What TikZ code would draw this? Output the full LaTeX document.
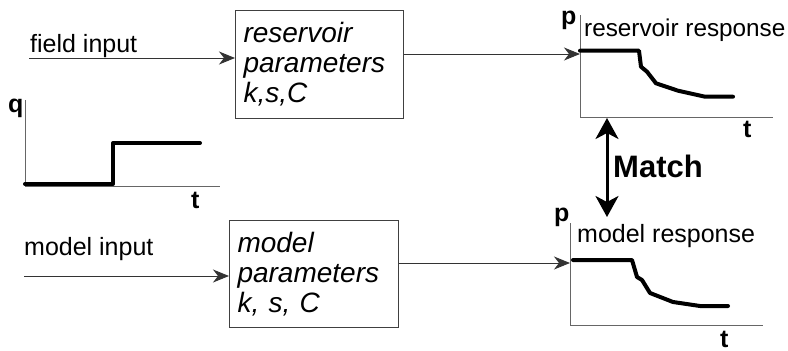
\documentclass[tikz,border=0pt]{standalone}
\usepackage{fontspec}
\setmainfont{Liberation Sans}
\usetikzlibrary{arrows.meta}

\tikzset{
  lbl/.style={anchor=base west, inner sep=0pt, font=\fontsize{25}{28}\selectfont},
  axlbl/.style={anchor=base west, inner sep=0pt, font=\fontsize{25}{28}\selectfont\bfseries},
  pbox/.style={draw=black!75, line width=1pt, anchor=north west, align=left,
    inner xsep=8pt, inner ysep=0pt, font=\fontsize{28}{30}\selectfont\itshape},
  thin arrow/.style={draw=black!80, line width=1pt,
    -{Stealth[length=16pt, width=13pt, inset=5pt]}},
  axis/.style={draw=black!60, line width=1pt},
  signal/.style={draw=black, line width=4pt, line cap=round, line join=round},
  match arrow/.style={draw=black, line width=3pt,
    {Stealth[length=21pt, width=23pt, inset=6pt]}-{Stealth[length=21pt, width=23pt, inset=6pt]}}
}

\begin{document}
\begin{tikzpicture}[x=1pt, y=-1pt]
  \useasboundingbox (0,0) rectangle (788,351);
  \clip (0,0) rectangle (788,351);

  % ---------- parameter boxes ----------
  \node[pbox, text width=152pt, minimum height=108pt] (res) at (235,10)
    {reservoir\\parameters\\k,s,C};
  \node[pbox, text width=153pt, minimum height=107pt] (mod) at (229,220)
    {model\\parameters\\k, s, C};

  % ---------- inputs ----------
  \node[lbl] (fieldlbl) at (30,52) {field input};
  \node[lbl] (modellbl) at (24,255) {model input};
  \coordinate (fin) at (29,58);
  \coordinate (min) at (24,276);
  \draw[thin arrow] (fin) -- (fin -| res.west);
  \draw[thin arrow] (min) -- (min -| mod.west);

  % ---------- input rate plot q(t) ----------
  \coordinate (qO) at (25,186);
  \coordinate (qtop) at (25,100);
  \coordinate (qend) at (220,186);
  \draw[axis] (qtop) -- (qO) -- (qend);
  \draw[signal] (25,184) -- (113,184) -- (113,143) -- (200,143);
  \node[axlbl] (qlbl) at (8,112) {q};
  \node[axlbl] (qt) at (191,208) {t};

  % ---------- reservoir response plot ----------
  \coordinate (rO) at (580,117);
  \coordinate (rtop) at (580,15);
  \coordinate (rend) at (773,117);
  \coordinate (rin) at (580,54);
  \draw[axis] (rtop) -- (rO) -- (rend);
  \draw[signal] (580,50.7) -- (639,50.7) -- (641,66.7) -- (647,71.7) -- (656,83.3)
    -- (678,90.7) -- (705,96.7) -- (733,96.7);
  \node[axlbl] (rp) at (561,24) {p};
  \node[lbl, font=\fontsize{24.3}{28}\selectfont] (rlbl) at (584,36) {reservoir response};
  \node[axlbl] (rt) at (743,137) {t};
  \draw[thin arrow] (res.east |- rin) -- (rin);

  % ---------- model response plot ----------
  \coordinate (mO) at (570,325);
  \coordinate (mtop) at (570,223);
  \coordinate (mend) at (763,325);
  \coordinate (mrin) at (570,263);
  \draw[axis] (mtop) -- (mO) -- (mend);
  \draw[signal] (573,260) -- (632,260) -- (637,277) -- (642,280) -- (650,293)
    -- (673,302) -- (700,306) -- (728,306);
  \node[axlbl] (mp) at (554,221) {p};
  \node[lbl] (mlbl) at (577,242) {model response};
  \node[axlbl] (mt) at (720,347) {t};
  \draw[thin arrow] (mod.east |- mrin) -- (mrin);

  % ---------- match ----------
  \coordinate (matchtop) at (607,118);
  \coordinate (matchbot) at (607,217);
  \draw[match arrow] (matchtop) -- (matchbot);
  \node[anchor=base west, inner sep=0pt, font=\fontsize{31}{34}\selectfont\bfseries]
    (match) at (613,177) {Match};
\end{tikzpicture}
\end{document}
